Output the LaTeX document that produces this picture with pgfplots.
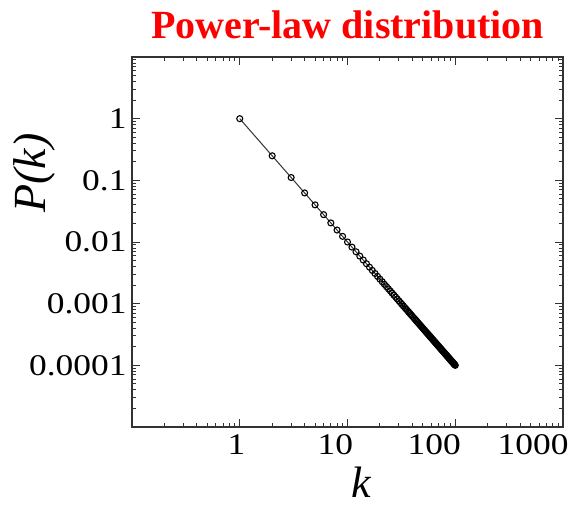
\documentclass[border=0pt]{standalone}
\usepackage{fontspec}
\setmainfont{Liberation Serif}
\newfontfamily\tickfont[FakeStretch=1.18]{Liberation Serif}
\usepackage{pgfplots}
\pgfplotsset{compat=1.18}
\usepackage{pgfplotstable}

% P(k): k = 1..100
\pgfplotstableread{
k P
1 1
2 0.25
3 0.1111
4 0.0625
5 0.04
6 0.02778
7 0.02041
8 0.01563
9 0.01235
10 0.01
11 0.008264
12 0.006944
13 0.005917
14 0.005102
15 0.004444
16 0.003906
17 0.003460
18 0.003086
19 0.002770
20 0.0025
21 0.002268
22 0.002066
23 0.001890
24 0.001736
25 0.0016
26 0.001479
27 0.001372
28 0.001276
29 0.001189
30 0.001111
31 0.001041
32 0.0009766
33 0.0009183
34 0.0008651
35 0.0008163
36 0.0007716
37 0.0007305
38 0.0006925
39 0.0006575
40 0.000625
41 0.0005949
42 0.0005669
43 0.0005408
44 0.0005165
45 0.0004938
46 0.0004726
47 0.0004527
48 0.0004340
49 0.0004165
50 0.0004
51 0.0003845
52 0.0003698
53 0.0003560
54 0.0003429
55 0.0003306
56 0.0003189
57 0.0003078
58 0.0002973
59 0.0002873
60 0.0002778
61 0.0002687
62 0.0002601
63 0.0002520
64 0.0002441
65 0.0002367
66 0.0002296
67 0.0002228
68 0.0002163
69 0.0002100
70 0.0002041
71 0.0001984
72 0.0001929
73 0.0001877
74 0.0001826
75 0.0001778
76 0.0001731
77 0.0001687
78 0.0001644
79 0.0001602
80 0.00015625
81 0.0001524
82 0.0001487
83 0.0001452
84 0.0001417
85 0.0001384
86 0.0001352
87 0.0001321
88 0.0001291
89 0.0001262
90 0.0001235
91 0.0001208
92 0.0001181
93 0.0001156
94 0.0001132
95 0.0001108
96 0.0001085
97 0.0001063
98 0.0001041
99 0.0001020
100 0.0001
}\datatable

\begin{document}
\begin{tikzpicture}
\useasboundingbox (-132pt,-82pt) rectangle (450pt,427pt);
\begin{axis}[
    at={(0pt,0pt)}, anchor=south west,
    scale only axis,
    width=431pt,
    height=370pt,
    xmode=log, ymode=log,
    xmin=0.1, xmax=1000,
    ymin=1e-5, ymax=10,
    xtick={0.1,1,10,100,1000},
    xticklabels={{},1,10,100,1000},
    ytick={1e-5,1e-4,1e-3,1e-2,1e-1,1,10},
    yticklabels={{},0.0001,0.001,0.01,0.1,1,{}},
    tick align=inside,
    major tick length=8pt,
    minor tick length=4pt,
    axis line style={line width=1.4pt, black!80},
    every tick/.style={black!80, line width=0.9pt},
    /pgf/number format/assume math mode=true,
    ticklabel style={font=\tickfont\fontsize{30}{30}\selectfont},
    xticklabel style={anchor=north east, xshift=9pt, yshift=-4pt},
    yticklabel style={xshift=-2pt},
    title={Power-law distribution},
    title style={font=\fontsize{40}{40}\selectfont\bfseries, text=red,
        at={(axis description cs:0.5,1)}, anchor=base, yshift=13pt},
    xlabel={k},
    xlabel style={font=\fontsize{44}{44}\selectfont\itshape, inner sep=0pt,
        at={(axis description cs:0.531,-0.19)}, anchor=base},
    ylabel={P(k)},
    ylabel style={font=\fontsize{46}{46}\selectfont\itshape,
        at={(axis description cs:-0.227,0.686)}, anchor=center},
]
\addplot[black!80, line width=1pt, mark=o, mark size=3pt,
    mark options={black, line width=1.1pt}] table[x=k, y=P] {\datatable};
\end{axis}
\end{tikzpicture}
\end{document}
